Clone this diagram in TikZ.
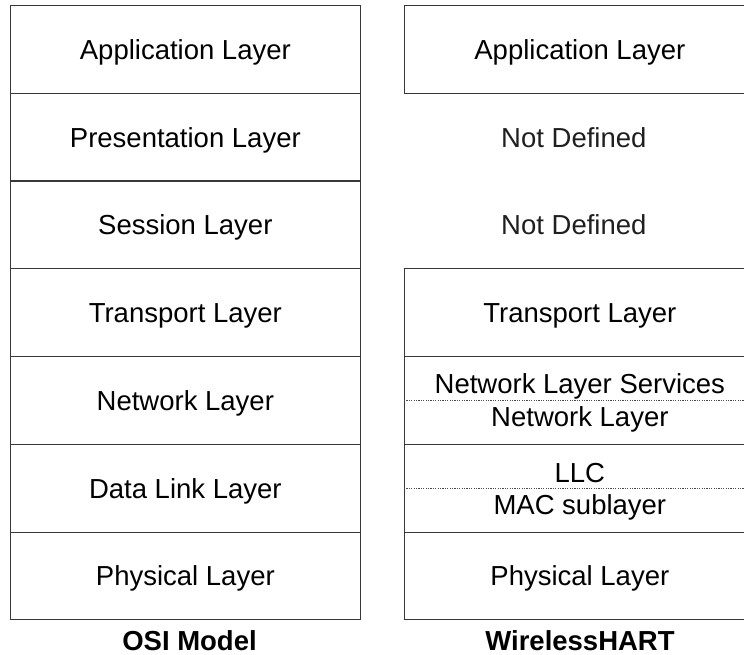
\documentclass[tikz,border=0pt]{standalone}
\usepackage{fontspec}
\setmainfont{Liberation Sans}
\begin{document}
\begin{tikzpicture}[x=1pt,y=-1pt,
  txt/.style={font=\fontsize{27.5}{31}\selectfont, inner sep=0pt,
    text height=25.8pt, text depth=6pt},
  layer/.style={txt, draw=black!78, line width=1.2pt, rectangle,
    minimum width=350.5pt, minimum height=87.75pt, anchor=north west},
  blank/.style={layer, draw=none, text=black!88},
  caption/.style={txt, font=\fontsize{27.5}{31}\selectfont\bfseries},
  subline/.style={draw=black!70, line width=0.8pt, dash pattern=on 1.2pt off 1.2pt}]
\useasboundingbox (0,0) rectangle (744,655);
\clip (0,0) rectangle (744,655);

% OSI model column
\node[layer] (o1) at (9.5,5)      {Application Layer};
\node[layer] (o2) at (9.5,92.75)  {Presentation Layer};
\node[layer] (o3) at (9.5,180.5)  {Session Layer};
\node[layer] (o4) at (9.5,268.25) {Transport Layer};
\node[layer] (o5) at (9.5,356)    {Network Layer};
\node[layer] (o6) at (9.5,443.75) {Data Link Layer};
\node[layer] (o7) at (9.5,531.5)  {Physical Layer};
\node[caption] (ocap) at (189.5,640.5) {OSI Model};

% WirelessHART column
\node[layer] (w1) at (404,5)      {Application Layer};
\node[blank] (w2) at (398,92.75)  {Not Defined};
\node[blank] (w3) at (398,180.5)  {Not Defined};
\node[layer] (w4) at (404,268.25) {Transport Layer};
\node[layer] (w5) at (404,356)    {};
\node[layer] (w6) at (404,443.75) {};
\node[layer] (w7) at (404,531.5)  {Physical Layer};

% split rows with sublayers
\draw[subline] (w5.west) -- (w5.east);
\node[txt] (w5a) at ([yshift=16.5pt]w5.center) {Network Layer Services};
\node[txt] (w5b) at ([yshift=-16pt]w5.center) {Network Layer};
\draw[subline] (w6.west) -- (w6.east);
\node[txt] (w6a) at ([yshift=15.5pt]w6.center) {LLC};
\node[txt] (w6b) at ([yshift=-16pt]w6.center) {MAC sublayer};

\node[caption] (wcap) at (580,640.5) {WirelessHART};
\end{tikzpicture}
\end{document}
